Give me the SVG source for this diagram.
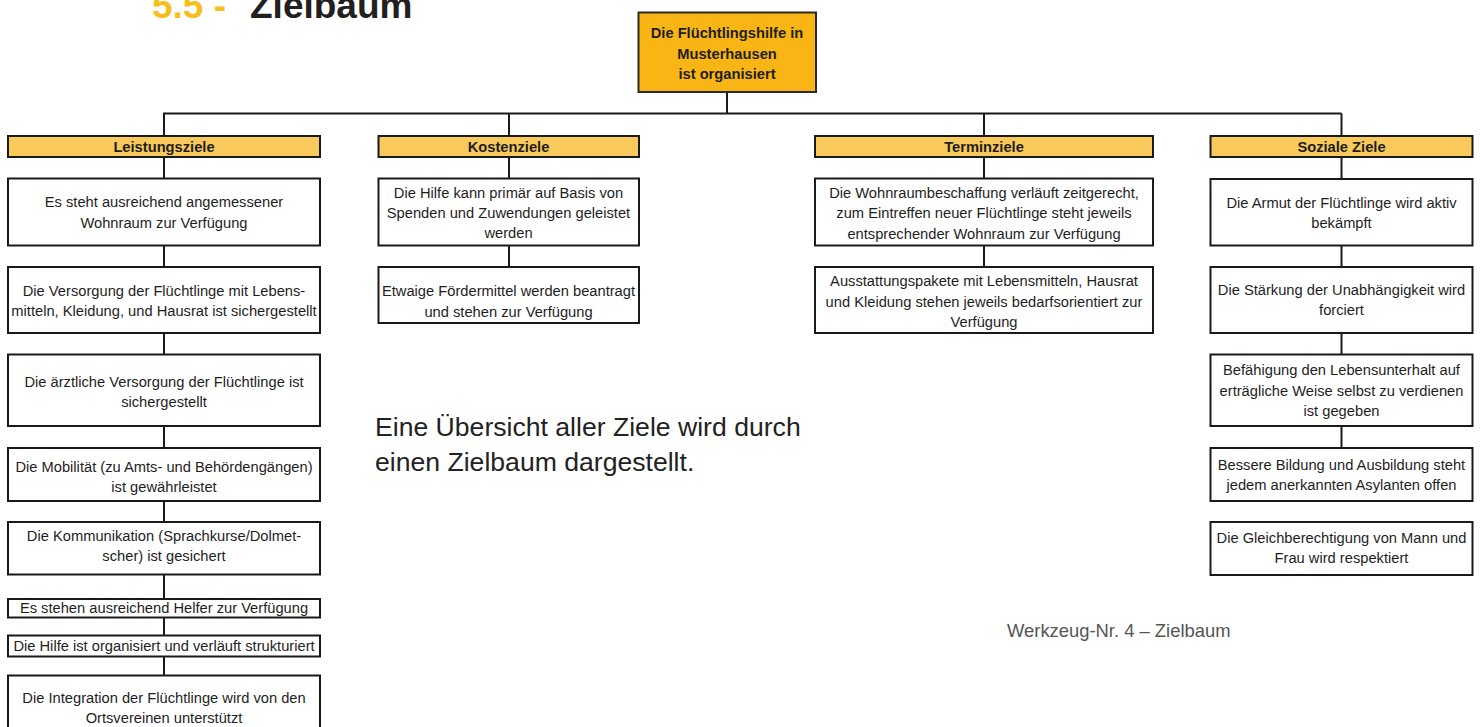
<svg xmlns="http://www.w3.org/2000/svg" width="1480" height="727" viewBox="0 0 1480 727">
<style>
.box{fill:#fff;stroke:#1a1a1a;stroke-width:2}
.hdr{fill:#F9C95C;stroke:#1a1a1a;stroke-width:2}
.root{fill:#F9B514;stroke:#2a2a2a;stroke-width:2}
.t{font-family:"Liberation Sans",Arial,sans-serif;font-size:14.7px;fill:#1e1e1e;text-anchor:middle}
.b{font-weight:bold}
.con{stroke:#1a1a1a;stroke-width:2;fill:none}
</style>
<rect width="1480" height="727" fill="#fff"/>
<g id="title">
<text x="152" y="18" font-family="'Liberation Sans',Arial,sans-serif" font-size="37" font-weight="bold" fill="#F7BF1B">5.5 -</text>
<text x="250" y="18" font-family="'Liberation Sans',Arial,sans-serif" font-size="37" font-weight="bold" fill="#231F20">Zielbaum</text>
</g>
<g id="connectors">
<line class="con" x1="727" y1="92" x2="727" y2="113.5"/>
<line class="con" x1="163" y1="113.5" x2="1341.5" y2="113.5"/>
<line class="con" x1="164" y1="113.5" x2="164" y2="676"/>
<line class="con" x1="509" y1="113.5" x2="509" y2="268"/>
<line class="con" x1="984" y1="113.5" x2="984" y2="268"/>
<line class="con" x1="1341.5" y1="113.5" x2="1341.5" y2="449"/>
</g>
<g id="root">
<rect class="root" x="638.5" y="12.5" width="177.5" height="79.5"/>
<text class="t b" x="727" y="37.5">Die Flüchtlingshilfe in</text>
<text class="t b" x="727" y="58.5">Musterhausen</text>
<text class="t b" x="727" y="79">ist organisiert</text>
</g>
<g id="h-leistung"><rect class="hdr" x="8" y="136" width="312" height="21"/><text class="t b" x="164" y="151.5">Leistungsziele</text></g>
<g id="h-kosten"><rect class="hdr" x="378.5" y="136" width="260.5" height="21"/><text class="t b" x="508.5" y="151.5">Kostenziele</text></g>
<g id="h-termin"><rect class="hdr" x="815" y="136" width="338" height="21"/><text class="t b" x="984" y="151.5">Terminziele</text></g>
<g id="h-sozial"><rect class="hdr" x="1210.5" y="136" width="262" height="21"/><text class="t b" x="1341.5" y="151.5">Soziale Ziele</text></g>

<g id="l1"><rect class="box" x="8" y="178.5" width="312" height="67"/><text class="t" x="164" y="207">Es steht ausreichend angemessener</text><text class="t" x="164" y="228">Wohnraum zur Verfügung</text></g>
<g id="l2"><rect class="box" x="8" y="267" width="312" height="66"/><text class="t" x="164" y="296">Die Versorgung der Flüchtlinge mit Lebens-</text><text class="t" x="164" y="316">mitteln, Kleidung, und Hausrat ist sichergestellt</text></g>
<g id="l3"><rect class="box" x="8" y="354.5" width="312" height="71.5"/><text class="t" x="164" y="387">Die ärztliche Versorgung der Flüchtlinge ist</text><text class="t" x="164" y="407">sichergestellt</text></g>
<g id="l4"><rect class="box" x="8" y="448" width="312" height="53"/><text class="t" x="164" y="472">Die Mobilität (zu Amts- und Behördengängen)</text><text class="t" x="164" y="492">ist gewährleistet</text></g>
<g id="l5"><rect class="box" x="8" y="522" width="312" height="52.5"/><text class="t" x="164" y="541">Die Kommunikation (Sprachkurse/Dolmet-</text><text class="t" x="164" y="560.5">scher) ist gesichert</text></g>
<g id="l6"><rect class="box" x="8" y="599" width="312" height="18.5"/><text class="t" x="164" y="613">Es stehen ausreichend Helfer zur Verfügung</text></g>
<g id="l7"><rect class="box" x="8" y="635.5" width="312" height="21"/><text class="t" x="164" y="651">Die Hilfe ist organisiert und verläuft strukturiert</text></g>
<g id="l8"><rect class="box" x="8" y="675.5" width="312" height="70"/><text class="t" x="164" y="703">Die Integration der Flüchtlinge wird von den</text><text class="t" x="164" y="722.5">Ortsvereinen unterstützt</text></g>

<g id="k1"><rect class="box" x="378.5" y="178.5" width="260.5" height="67"/><text class="t" x="508.5" y="197.5">Die Hilfe kann primär auf Basis von</text><text class="t" x="508.5" y="217.5">Spenden und Zuwendungen geleistet</text><text class="t" x="508.5" y="238">werden</text></g>
<g id="k2"><rect class="box" x="378.5" y="267" width="260.5" height="56"/><text class="t" x="508.5" y="296">Etwaige Fördermittel werden beantragt</text><text class="t" x="508.5" y="316.5">und stehen zur Verfügung</text></g>

<g id="t1"><rect class="box" x="815" y="178.5" width="338" height="67"/><text class="t" x="984" y="198">Die Wohnraumbeschaffung verläuft zeitgerecht,</text><text class="t" x="984" y="218">zum Eintreffen neuer Flüchtlinge steht jeweils</text><text class="t" x="984" y="238.5">entsprechender Wohnraum zur Verfügung</text></g>
<g id="t2"><rect class="box" x="815" y="267" width="338" height="66"/><text class="t" x="984" y="286">Ausstattungspakete mit Lebensmitteln, Hausrat</text><text class="t" x="984" y="306.5">und Kleidung stehen jeweils bedarfsorientiert zur</text><text class="t" x="984" y="326.5">Verfügung</text></g>

<g id="s1"><rect class="box" x="1210.5" y="179" width="262" height="66.5"/><text class="t" x="1341.5" y="208">Die Armut der Flüchtlinge wird aktiv</text><text class="t" x="1341.5" y="228">bekämpft</text></g>
<g id="s2"><rect class="box" x="1210.5" y="267" width="262" height="66"/><text class="t" x="1341.5" y="295">Die Stärkung der Unabhängigkeit wird</text><text class="t" x="1341.5" y="315">forciert</text></g>
<g id="s3"><rect class="box" x="1210.5" y="354.5" width="262" height="71.5"/><text class="t" x="1341.5" y="375">Befähigung den Lebensunterhalt auf</text><text class="t" x="1341.5" y="395.5">erträgliche Weise selbst zu verdienen</text><text class="t" x="1341.5" y="415.5">ist gegeben</text></g>
<g id="s4"><rect class="box" x="1210.5" y="448" width="262" height="53"/><text class="t" x="1341.5" y="470">Bessere Bildung und Ausbildung steht</text><text class="t" x="1341.5" y="490">jedem anerkannten Asylanten offen</text></g>
<g id="s5"><rect class="box" x="1210.5" y="522" width="262" height="53"/><text class="t" x="1341.5" y="543">Die Gleichberechtigung von Mann und</text><text class="t" x="1341.5" y="563">Frau wird respektiert</text></g>

<g id="note">
<text x="375" y="436" font-family="'Liberation Sans',Arial,sans-serif" font-size="26.6" fill="#222">Eine Übersicht aller Ziele wird durch</text>
<text x="375" y="471" font-family="'Liberation Sans',Arial,sans-serif" font-size="26.6" fill="#222">einen Zielbaum dargestellt.</text>
</g>
<g id="caption">
<text x="1007" y="636.5" font-family="'Liberation Sans',Arial,sans-serif" font-size="18.4" fill="#555">Werkzeug-Nr. 4 – Zielbaum</text>
</g>
</svg>
